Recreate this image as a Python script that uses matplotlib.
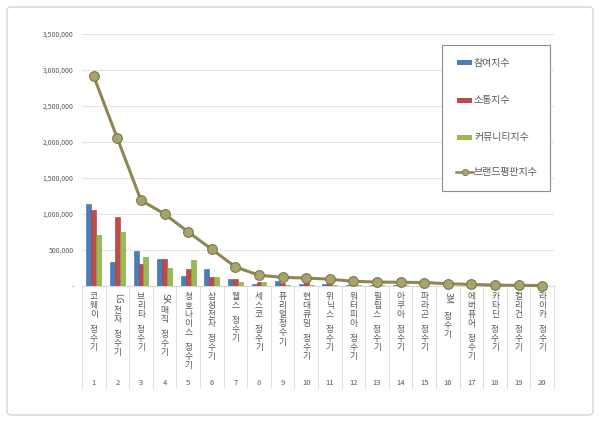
import matplotlib
matplotlib.use("Agg")
import matplotlib.pyplot as plt
import matplotlib.transforms as mtransforms
from matplotlib.patches import FancyBboxPatch
from matplotlib.lines import Line2D
import numpy as np

plt.rcParams['font.family'] = ['Noto Sans CJK KR', 'DejaVu Sans']

categories = ["코웨이 정수기", "LG전자 정수기", "브리타 정수기", "SK매직 정수기",
              "청호나이스 정수기", "삼성전자 정수기", "웰스 정수기", "세스코 정수기",
              "퓨리얼정수기", "현대큐밍 정수기", "위닉스 정수기", "워터피아 정수기",
              "필립스 정수기", "아쿠아 정수기", "파라곤 정수기", "3M 정수기",
              "에버퓨어 정수기", "카타딘 정수기", "컬리건 정수기", "라이카 정수기"]
participation = [1140000, 340000, 480000, 370000, 140000, 230000, 95000, 25000, 70000, 30000,
                 25000, 15000, 12000, 8000, 6000, 5000, 4000, 3000, 2000, 2000]
communication = [1050000, 960000, 310000, 370000, 230000, 130000, 95000, 60000, 40000, 60000,
                 40000, 20000, 15000, 10000, 8000, 6000, 5000, 3000, 2000, 2000]
community = [710000, 750000, 400000, 250000, 360000, 130000, 60000, 50000, 20000, 20000,
             15000, 12000, 10000, 8000, 6000, 5000, 4000, 3000, 2000, 2000]
brand = [2910000, 2050000, 1190000, 1000000, 750000, 510000, 265000, 150000, 120000, 110000,
         95000, 65000, 55000, 52000, 48000, 32000, 22000, 12000, 9000, 6000]
series_names = ["참여지수", "소통지수", "커뮤니티지수", "브랜드평판지수"]
yticks = [0, 500000, 1000000, 1500000, 2000000, 2500000, 3000000, 3500000]

W, H = 600, 422
fig = plt.figure(figsize=(6, 4.22), dpi=100)
fig.patch.set_facecolor('white')

# outer frame
frame = FancyBboxPatch((7 / W, 7 / H), 586 / W, 408 / H,
                       boxstyle="round,pad=0,rounding_size=0.008",
                       transform=fig.transFigure, facecolor='none',
                       edgecolor='#D4D4D4', linewidth=1.0, zorder=-1)
fig.patches.append(frame)

left, right, top, bottom = 82, 554, 34, 286
ax = fig.add_axes([left / W, 1 - bottom / H, (right - left) / W, (bottom - top) / H])
ax.set_facecolor('none')

n = len(categories)
x = np.arange(n)
bw = 0.21
blue, red, green = '#4A7EBB', '#BE4B48', '#98B954'
ax.bar(x - bw, participation, bw, color=blue, edgecolor='#3A66A0', linewidth=0.4, zorder=3)
ax.bar(x, communication, bw, color=red, edgecolor='#9E3A38', linewidth=0.4, zorder=3)
ax.bar(x + bw, community, bw, color=green, edgecolor='#7E9C44', linewidth=0.4, zorder=3)
ax.plot(x, brand, color='#8C8753', linewidth=2.2, marker='o', markersize=7,
        markerfacecolor='#A8A36C', markeredgecolor='#7D7846', markeredgewidth=0.8,
        zorder=4, clip_on=False)

ax.set_xlim(-0.5, n - 0.5)
ax.set_ylim(0, 3500000)
ax.set_yticks(yticks)
ax.set_yticklabels(['-' if v == 0 else f"{v:,}" for v in yticks])
ax.tick_params(axis='y', length=0, labelsize=5, labelcolor='#595959', pad=6)
ax.set_xticks([])
ax.grid(axis='y', color='#E3E3E3', linewidth=0.8, zorder=0)
for s in ['top', 'right', 'left']:
    ax.spines[s].set_visible(False)
ax.spines['bottom'].set_color('#D9D9D9')
ax.spines['bottom'].set_linewidth(0.8)

# category separators below the axis
trans = mtransforms.blended_transform_factory(ax.transData, ax.transAxes)
sep_bottom = -(388 - bottom) / (bottom - top)
for b in np.arange(n + 1) - 0.5:
    ax.add_line(Line2D([b, b], [0, sep_bottom], transform=trans, color='#E0E0E0',
                       linewidth=0.8, clip_on=False))

# vertical stacked category labels
char_step = 9.1
space_step = 5.5
start = 6.0
for i, lab in enumerate(categories):
    yoff = 0.0
    j = 0
    while j < len(lab):
        ch = lab[j]
        if ch == ' ':
            yoff += space_step
            j += 1
            continue
        if ch.isascii():
            k = j
            while k < len(lab) and lab[k].isascii() and lab[k] != ' ':
                k += 1
            run = lab[j:k]
            ln = 6.0 * len(run)
            ax.annotate(run, xy=(i, 0), xycoords=trans,
                        xytext=(0, -(start + yoff + ln / 2) * 0.72), textcoords='offset points',
                        rotation=-90, ha='center', va='center', fontsize=6.3,
                        color='#595959', annotation_clip=False)
            yoff += ln + 2
            j = k
            continue
        ax.annotate(ch, xy=(i, 0), xycoords=trans,
                    xytext=(0, -(start + yoff + 4.5) * 0.72), textcoords='offset points',
                    ha='center', va='center', fontsize=6.3, color='#595959',
                    annotation_clip=False)
        yoff += char_step
        j += 1
    ax.annotate(str(i + 1), xy=(i, 0), xycoords=trans,
                xytext=(0, -(383 - bottom) * 0.72), textcoords='offset points',
                ha='center', va='center', fontsize=5.5, color='#595959',
                annotation_clip=False)

# legend box
lx0, ly0, lx1, ly1 = 442, 45, 550, 191
leg_box = FancyBboxPatch((lx0 / W, 1 - ly1 / H), (lx1 - lx0) / W, (ly1 - ly0) / H,
                         boxstyle="square,pad=0", transform=fig.transFigure,
                         facecolor='white', edgecolor='#8C8C8C', linewidth=0.8, zorder=5)
fig.patches.append(leg_box)
entry_y = [63, 100, 137, 172]
colors = [blue, red, green]
for k, (name, yy) in enumerate(zip(series_names, entry_y)):
    fy = 1 - yy / H
    if k < 3:
        fig.patches.append(plt.Rectangle((457 / W, fy - 2.5 / H), 15 / W, 5 / H,
                                         transform=fig.transFigure, facecolor=colors[k],
                                         edgecolor='none', zorder=6))
    else:
        fig.lines.append(Line2D([456 / W, 473 / W], [fy, fy], transform=fig.transFigure,
                                color='#8C8753', linewidth=1.8, zorder=6))
        fig.lines.append(Line2D([464.5 / W], [fy], transform=fig.transFigure, marker='o',
                                markersize=4.5, markerfacecolor='#A8A36C',
                                markeredgecolor='#7D7846', markeredgewidth=0.6,
                                linestyle='none', zorder=7))
    fig.text(474 / W, fy, name, ha='left', va='center', fontsize=7.2,
             color='#595959', zorder=7)

fig.savefig('out.png', dpi=100, facecolor='white')
